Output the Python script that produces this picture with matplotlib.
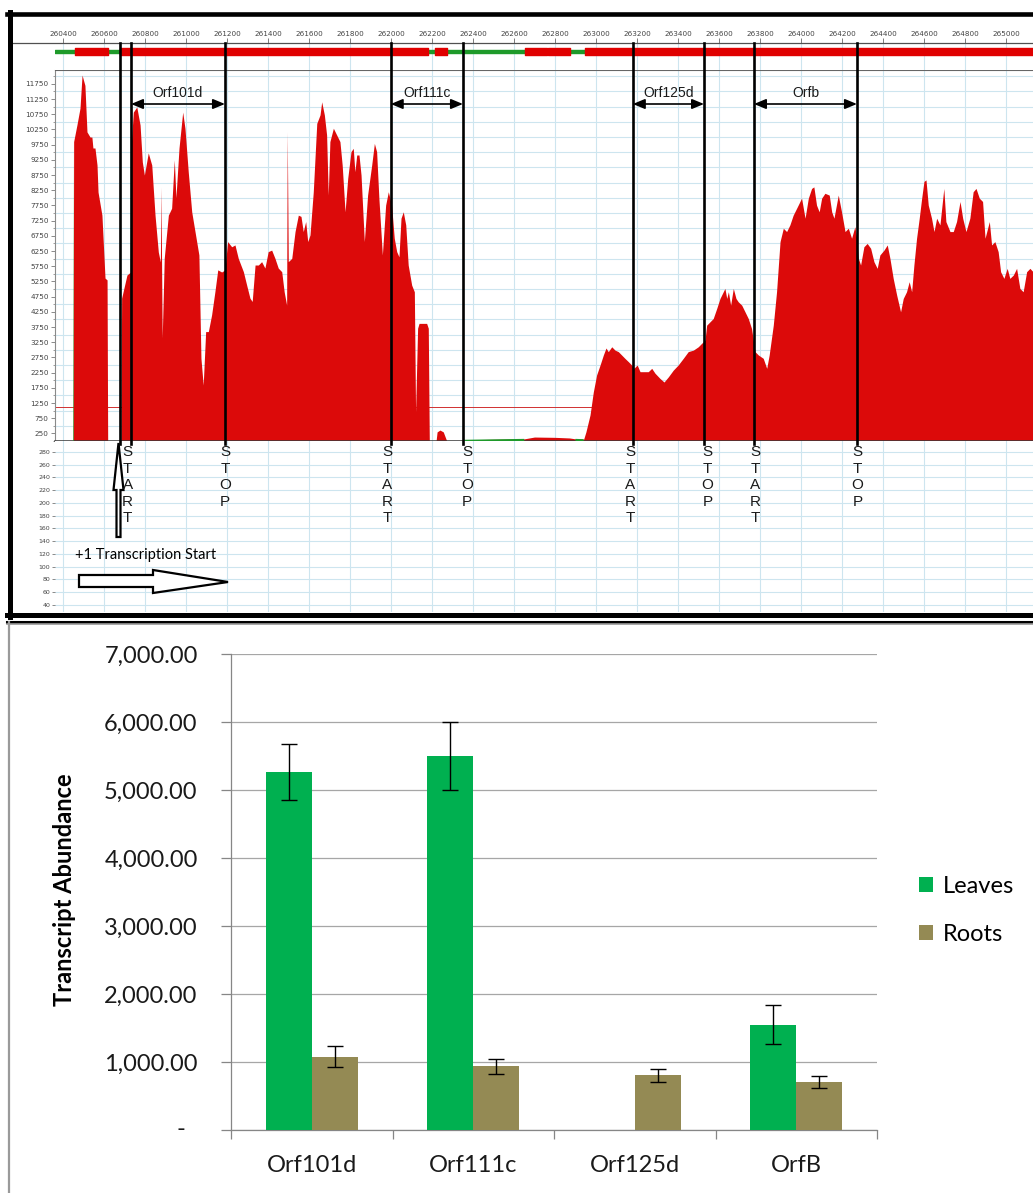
import matplotlib
matplotlib.use("Agg")
import matplotlib.pyplot as plt
import numpy as np
from matplotlib.lines import Line2D
from matplotlib.patches import Polygon
from matplotlib.transforms import blended_transform_factory

# ---------------------------------------------------------------------------
# Read depth along the region (genomic position in bp, reads)
# ---------------------------------------------------------------------------
cov_pos = [
    260361, 260449, 260452, 260468, 260483, 260493, 260507, 260517, 260532, 260541,
    260546, 260556, 260566, 260571, 260590, 260605, 260615, 260618, 260683, 260686,
    260712, 260728, 260732, 260743, 260760, 260776, 260787, 260797, 260816, 260833,
    260849, 260865, 260875, 260878, 260881, 260884, 260894, 260914, 260930, 260943,
    260951, 260966, 260984, 260995, 261011, 261028, 261044, 261063, 261073, 261084,
    261096, 261109, 261125, 261141, 261155, 261174, 261190, 261203, 261223, 261239,
    261255, 261280, 261296, 261312, 261323, 261337, 261353, 261369, 261385, 261401,
    261418, 261434, 261450, 261467, 261479, 261491, 261494, 261499, 261516, 261532,
    261548, 261561, 261572, 261584, 261594, 261605, 261621, 261638, 261654, 261662,
    261675, 261686, 261694, 261702, 261719, 261735, 261751, 261762, 261776, 261789,
    261805, 261816, 261824, 261833, 261844, 261854, 261870, 261886, 261906, 261919,
    261930, 261941, 261958, 261974, 261987, 262003, 262016, 262028, 262039, 262049,
    262060, 262072, 262084, 262101, 262114, 262120, 262130, 262137, 262174, 262182,
    262187, 262220, 262225, 262239, 262255, 262272, 262351, 262355, 262450, 262550,
    262650, 262700, 262800, 262870, 262900, 262940, 262951, 262971, 262987, 263003,
    263020, 263036, 263049, 263060, 263077, 263093, 263109, 263125, 263141, 263158,
    263174, 263185, 263201, 263215, 263239, 263255, 263272, 263288, 263312, 263332,
    263353, 263377, 263401, 263426, 263450, 263475, 263499, 263515, 263532, 263540,
    263556, 263572, 263589, 263605, 263621, 263629, 263638, 263646, 263657, 263670,
    263683, 263694, 263711, 263727, 263743, 263759, 263776, 263792, 263816, 263833,
    263845, 263865, 263881, 263898, 263914, 263930, 263946, 263962, 263979, 264003,
    264020, 264036, 264052, 264063, 264076, 264089, 264101, 264117, 264138, 264150,
    264161, 264182, 264198, 264215, 264231, 264247, 264263, 264272, 264280, 264291,
    264307, 264323, 264340, 264356, 264372, 264385, 264405, 264421, 264434, 264450,
    264467, 264486, 264499, 264515, 264528, 264540, 264551, 264564, 264577, 264589,
    264600, 264610, 264621, 264637, 264649, 264662, 264678, 264697, 264707, 264727,
    264743, 264759, 264776, 264789, 264805, 264824, 264840, 264854, 264870, 264886,
    264898, 264919, 264930, 264946, 264962, 264974, 264990, 265006, 265019, 265036,
    265052, 265068, 265084, 265101, 265117, 265132,
]
cov_depth = [
    0, 0, 9850, 10400, 10950, 12040, 11700, 10170, 10000, 10000,
    9640, 9640, 9080, 8190, 7430, 5360, 5300, 0, 0, 4700,
    5460, 5550, 9640, 10820, 10990, 10400, 9180, 8750, 9480, 9080,
    7430, 6220, 5890, 8360, 5790, 3390, 6020, 7430, 7660, 9250,
    8000, 9640, 10820, 10290, 8860, 7540, 6890, 6120, 2720, 1840,
    3600, 3600, 4150, 4910, 5630, 5560, 5630, 6560, 6390, 6450,
    6010, 5570, 5130, 4700, 4590, 5790, 5790, 5900, 5690, 6230,
    6280, 6010, 5690, 5570, 4910, 4470, 10180, 5900, 6010, 6890,
    7430, 7390, 6890, 7220, 6560, 6780, 8200, 10450, 10730, 11160,
    10730, 10070, 8090, 9850, 10290, 10070, 9850, 9080, 7540, 8640,
    9520, 9630, 8860, 9410, 9410, 8750, 6560, 8090, 9080, 9790,
    9520, 7990, 6120, 7760, 8200, 7760, 6670, 6230, 6060, 7330,
    7540, 7110, 5790, 5130, 4910, 960, 3710, 3870, 3870, 3710,
    0, 0, 300, 360, 300, 0, 0, 40, 50, 60,
    70, 130, 120, 100, 70, 60, 300, 855, 1610, 2170,
    2500, 2830, 3060, 2940, 3100, 2990, 2940, 2830, 2720, 2610,
    2500, 2390, 2500, 2280, 2280, 2280, 2390, 2230, 2060, 1940,
    2110, 2330, 2500, 2720, 2940, 2990, 3100, 3210, 3320, 3810,
    3920, 4030, 4360, 4690, 4910, 5020, 4690, 4910, 4470, 5020,
    4690, 4580, 4470, 4250, 4030, 3700, 2940, 2830, 2720, 2390,
    2830, 3810, 4910, 6560, 7000, 6890, 7110, 7430, 7660, 7990,
    7330, 7990, 8310, 8360, 7760, 7540, 7990, 8150, 8090, 7540,
    7330, 8090, 7540, 6890, 7000, 6670, 7050, 6670, 6010, 5790,
    6390, 6500, 6340, 5900, 5680, 6120, 6280, 6450, 6010, 5350,
    4800, 4250, 4690, 4910, 5240, 4910, 5790, 6670, 7330, 7990,
    8540, 8590, 7760, 7330, 6890, 7330, 7110, 8310, 7220, 6890,
    6890, 7220, 7880, 7330, 6890, 7330, 8200, 8310, 7990, 7880,
    6670, 7220, 6450, 6560, 6230, 5570, 5350, 5680, 5350, 5460,
    5680, 5020, 4910, 5570, 5680, 5570,
]

# annotation track: intergenic spans (green) and annotated spans (red)
intergenic = [(260361, 260459), (260620, 260678), (262273, 262654), (262873, 262946)]
annotated = [(260459, 260620), (260678, 262180), (262215, 262273),
             (262654, 262763), (262768, 262873), (262946, 265132)]

tss_pos = 260678
orf_names = ["Orf101d", "Orf111c", "Orf125d", "Orfb"]
orf_start = [260732, 261999, 263180, 263771]
orf_stop = [261190, 262351, 263527, 264273]
depth_cutoff = 1130

# qRT-PCR transcript abundance
genes = ["Orf101d", "Orf111c", "Orf125d", "OrfB"]
leaves = [5270, 5500, 0, 1550]
leaves_err = [410, 500, 0, 290]
roots = [1080, 935, 805, 705]
roots_err = [160, 110, 95, 90]

# ---------------------------------------------------------------------------
W, H = 1033, 1193
fig = plt.figure(figsize=(W / 100, H / 100), dpi=100)
fig.patch.set_facecolor("white")


def fx(x):
    return x / W


def fy(y):
    return 1 - y / H


X0, X1 = 260361, 265132
BP_PER_PX = (X1 - X0) / (1033 - 55)
GRID = "#cde5ef"
RED = "#dc0a0a"
GREEN = "#1e9a2a"
TICKC = "#444444"

ax_cov = fig.add_axes([fx(55), fy(441), fx(1033) - fx(55), fy(70) - fy(441)])
ax_ann = fig.add_axes([fx(55), fy(70), fx(1033) - fx(55), fy(43) - fy(70)])
ax_low = fig.add_axes([fx(55), fy(612), fx(1033) - fx(55), fy(441) - fy(612)])

ruler = np.arange(260400, 265001, 200)
for a in (ax_cov, ax_ann, ax_low):
    a.set_xlim(X0, X1)
    a.set_xticks(ruler)
    a.set_axisbelow(True)
    a.xaxis.grid(True, color=GRID, lw=0.8)
    a.tick_params(axis="x", length=0, labelbottom=False)
    for s in a.spines.values():
        s.set_visible(False)

# coverage
pos = np.array(cov_pos)
depth = np.array(cov_depth)
ax_cov.fill_between(pos, depth, color=RED, lw=0, zorder=2)
green_mask = np.zeros(len(pos), bool)
for a, b in intergenic:
    green_mask |= (pos >= a) & (pos <= b)
ax_cov.fill_between(pos, depth, where=green_mask, color=GREEN, lw=0, zorder=3)
ax_cov.axhline(depth_cutoff, color="#d03030", lw=0.7, zorder=1.5)
ax_cov.set_ylim(0, 12206)
ax_cov.set_yticks(np.arange(250, 12000, 500))
ax_cov.set_yticks(np.arange(0, 12206, 250), minor=True)
ax_cov.set_yticklabels([str(v) for v in np.arange(250, 12000, 500)],
                       fontsize=5.2, color=TICKC, family="DejaVu Sans")
ax_cov.yaxis.grid(True, which="minor", color=GRID, lw=0.8)
ax_cov.tick_params(axis="y", which="major", length=3, width=0.6, color="#777777", pad=1.5)
ax_cov.tick_params(axis="y", which="minor", length=1.5, width=0.5, color="#777777")
ax_cov.spines["left"].set_visible(True)
ax_cov.spines["left"].set_color("#8a8a8a")
ax_cov.spines["bottom"].set_visible(True)
ax_cov.spines["bottom"].set_color("#3a3a3a")
ax_cov.spines["bottom"].set_linewidth(1.1)
ax_cov.spines["top"].set_visible(True)
ax_cov.spines["top"].set_color("#666666")

# lower scale strip
ax_low.set_ylim(29, 297)
low_ticks = np.arange(40, 281, 20)
ax_low.set_yticks(low_ticks)
ax_low.set_yticklabels([str(v) for v in low_ticks], fontsize=4.5, color=TICKC,
                       family="DejaVu Sans")
ax_low.yaxis.grid(True, color=GRID, lw=0.8)
ax_low.tick_params(axis="y", length=2.5, width=0.6, color="#777777", pad=1)

# annotation track + ruler
ax_ann.set_ylim(0, 1)
ax_ann.set_yticks([])
ax_ann.set_xticklabels([str(v) for v in ruler], fontsize=5.2, color=TICKC,
                       family="DejaVu Sans")
ax_ann.tick_params(axis="x", top=True, labeltop=True, bottom=False,
                   length=3.6, width=0.6, color="#666666", pad=1)
ax_ann.broken_barh([(X0, 262946 - X0)], (0.63, 0.11), color=GREEN, zorder=2)
ax_ann.broken_barh([(a, b - a) for a, b in annotated], (0.555, 0.26),
                   color="#e00000", zorder=3)

fig.add_artist(Line2D([fx(12), fx(1033)], [fy(43), fy(43)], color="#505050", lw=0.9))

# ORF boundaries, arrows and labels (x in bp, y in figure fraction)
trans = blended_transform_factory(ax_cov.transData, fig.transFigure)
for p in [tss_pos] + orf_start + orf_stop:
    fig.add_artist(Line2D([p, p], [fy(43), fy(444)], transform=trans,
                          color="black", lw=1.9, zorder=5))

for name, a, b in zip(orf_names, orf_start, orf_stop):
    ax_cov.annotate("", xy=(b, fy(104)), xytext=(a, fy(104)),
                    xycoords=trans, textcoords=trans, annotation_clip=False,
                    arrowprops=dict(arrowstyle="<|-|>,head_length=0.6,head_width=0.25",
                                    mutation_scale=12, lw=1.2, color="black",
                                    shrinkA=0, shrinkB=0))
    ax_cov.text((a + b) / 2, fy(93), name, transform=trans, ha="center",
                va="center", fontsize=10, family="Liberation Sans", color="#1a1a1a")


def vertical_word(word, p, shift_px):
    x = p + shift_px * BP_PER_PX
    for i, ch in enumerate(word):
        fig.text(x, fy(452 + i * 16.6), ch, transform=trans, ha="center",
                 va="center", fontsize=11, family="Liberation Sans",
                 color="#1a1a1a", zorder=6)


# hand-placed labels sit a few pixels off their boundary lines
for p, s in zip(orf_start, [-3.5, -3.5, -2.5, 1.5]):
    vertical_word("START", p, s)
for p, s in zip(orf_stop, [0, 4, 3.5, 0.5]):
    vertical_word("STOP", p, s)

fig.text(fx(75), fy(555), "+1 Transcription Start", ha="left", va="center",
         fontsize=10.5, family="Lato", color="black")

# hollow arrows marking the transcription start
h_arrow = [(79, 575), (153, 575), (153, 570), (228, 582), (153, 593), (153, 587), (79, 587)]
v_arrow = [(118.5, 443), (123.5, 490), (120.5, 490), (120.5, 537),
           (116.5, 537), (116.5, 490), (113.5, 490)]
for pts in (h_arrow, v_arrow):
    fig.add_artist(Polygon([(fx(x), fy(y)) for x, y in pts], closed=True,
                           transform=fig.transFigure, facecolor="white",
                           edgecolor="black", lw=1.6, zorder=6))

# panel frames
fig.add_artist(Line2D([fx(7), fx(1033)], [fy(14), fy(14)], color="black", lw=3.3))
fig.add_artist(Line2D([fx(9.5), fx(9.5)], [fy(12), fy(617)], color="black", lw=3.6))
fig.add_artist(Line2D([fx(7), fx(1033)], [fy(614.5), fy(614.5)], color="black", lw=3.6))
fig.add_artist(Line2D([fx(7), fx(1033)], [fy(621.5), fy(621.5)], color="black", lw=2.2))
fig.add_artist(Line2D([fx(7), fx(1033)], [fy(624), fy(624)], color="#9a9a9a", lw=1.2))
fig.add_artist(Line2D([fx(8.5), fx(8.5)], [fy(622), fy(1193)], color="#9a9a9a", lw=1.6))

# ---------------------------------------------------------------------------
# Transcript abundance bar chart
# ---------------------------------------------------------------------------
LEAF = "#00b050"
ROOT = "#948a54"
TXT = "#1a1a1a"
AXC = "#868686"

ax_bar = fig.add_axes([fx(231), fy(1130), fx(877) - fx(231), fy(654) - fy(1130)])
xc = np.arange(len(genes))
bw = 0.285
ax_bar.bar(xc - bw / 2, leaves, bw, color=LEAF, label="Leaves", zorder=3)
ax_bar.bar(xc + bw / 2, roots, bw, color=ROOT, label="Roots", zorder=3)

le = np.array(leaves_err)
m = le > 0
ax_bar.errorbar((xc - bw / 2)[m], np.array(leaves)[m], yerr=le[m], fmt="none",
                ecolor="black", elinewidth=1, capsize=5.5, capthick=1, zorder=4)
ax_bar.errorbar(xc + bw / 2, roots, yerr=roots_err, fmt="none",
                ecolor="black", elinewidth=1, capsize=5.5, capthick=1, zorder=4)

ax_bar.set_xlim(-0.5, 3.5)
ax_bar.set_ylim(0, 7000)
yt = np.arange(0, 7001, 1000)
ax_bar.set_yticks(yt)
ax_bar.set_yticklabels(["" if v == 0 else f"{v:,.2f}" for v in yt],
                       fontsize=17, family="Lato", color=TXT)
ax_bar.annotate("-", xy=(0, 0), xycoords=("axes fraction", "data"),
                xytext=(-(231 - 185) * 0.72, 0), textcoords="offset points",
                ha="right", va="center", fontsize=17, family="Lato", color=TXT)
ax_bar.yaxis.grid(True, color="#a6a6a6", lw=0.9)
ax_bar.set_axisbelow(True)
ax_bar.tick_params(axis="y", length=7, width=0.9, color=AXC, pad=17)

ax_bar.set_xticks(xc)
ax_bar.set_xticklabels(genes, fontsize=17, family="Lato", color=TXT)
ax_bar.set_xticks(np.arange(-0.5, 3.6, 1), minor=True)
ax_bar.tick_params(axis="x", which="major", length=0, pad=18)
ax_bar.tick_params(axis="x", which="minor", length=6.5, width=0.9, color=AXC)

for s in ("top", "right"):
    ax_bar.spines[s].set_visible(False)
for s in ("left", "bottom"):
    ax_bar.spines[s].set_color(AXC)
    ax_bar.spines[s].set_linewidth(0.9)

fig.text(fx(64), fy(890), "Transcript Abundance", rotation=90, ha="center",
         va="center", fontsize=17, fontweight="bold", family="Lato", color="black")

ax_bar.legend(loc="upper left", bbox_to_anchor=(fx(919), fy(876)),
              bbox_transform=fig.transFigure, frameon=False,
              prop={"family": "Lato", "size": 17}, handlelength=0.6,
              handleheight=0.6, handletextpad=0.4, labelspacing=1.15,
              borderpad=0, borderaxespad=0)

fig.savefig("out.png", dpi=100, facecolor="white")
